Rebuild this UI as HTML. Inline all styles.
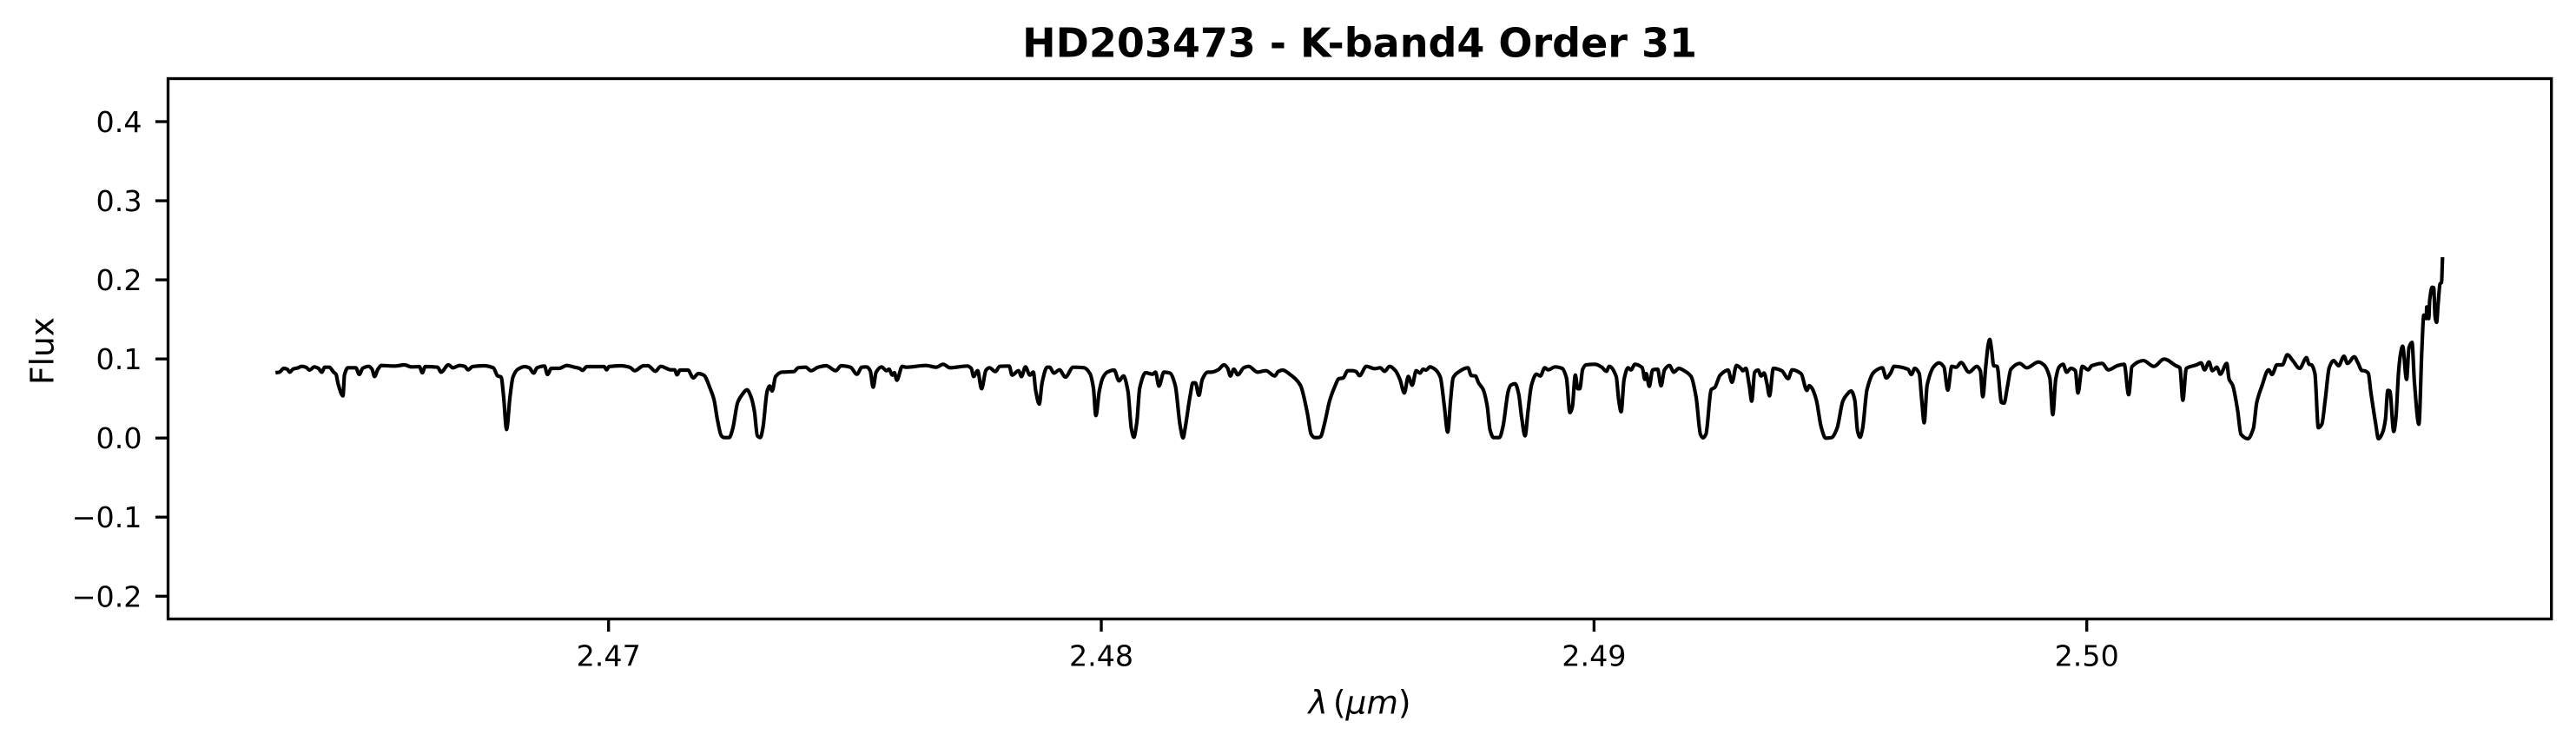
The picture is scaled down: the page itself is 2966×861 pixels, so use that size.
<!DOCTYPE html>
<html lang="en">
<head>
<meta charset="utf-8">
<title>HD203473 - K-band4 Order 31</title>
<style>
html,body{margin:0;padding:0;background:#fff;width:2966px;height:861px;overflow:hidden}
svg{display:block}
text{font-family:"DejaVu Sans","Liberation Sans",sans-serif;fill:#000}
</style>
</head>
<body>
<svg id="chart" xmlns="http://www.w3.org/2000/svg" width="2966" height="861" viewBox="0 0 2966 861">
  <rect x="0" y="0" width="2966" height="861" fill="#fff"/>
  <text x="1565.6" y="65.7" text-anchor="middle" font-size="46" font-weight="700">HD203473 - K-band4 Order 31</text>
  <g id="ticks"></g>
  <path id="line" fill="none" stroke="#000" stroke-width="4.17" stroke-linejoin="round" stroke-linecap="butt"/>
  <rect x="193.5" y="90.5" width="2744.2" height="622" fill="none" stroke="#000" stroke-width="3.33"/>
  <text x="1565.6" y="821.7" text-anchor="middle" font-size="37.5"><tspan font-style="italic">λ</tspan><tspan dx="6">(</tspan><tspan font-style="italic">μm</tspan><tspan>)</tspan></text>
  <text transform="translate(61.5 404) rotate(-90)" text-anchor="middle" font-size="37.5">Flux</text>
</svg>
<script>
const xTicks = [2.47, 2.48, 2.49, 2.50];
const xTickLabels = ["2.47", "2.48", "2.49", "2.50"];
const yTicks = [-0.2, -0.1, 0, 0.1, 0.2, 0.3, 0.4];
const yTickLabels = ["\u22120.2", "\u22120.1", "0.0", "0.1", "0.2", "0.3", "0.4"];
const wavelength = [
2.46324,2.46332,2.46341,2.46348,2.46353,2.46360,2.46370,2.46377,2.46386,2.46393,
2.46403,2.46411,2.46418,2.46424,2.46433,2.46442,2.46447,2.46451,2.46461,2.46464,
2.46471,2.46487,2.46494,2.46501,2.46513,2.46520,2.46525,2.46532,2.46539,2.46566,
2.46586,2.46600,2.46616,2.46622,2.46628,2.46653,2.46660,2.46675,2.46684,2.46698,
2.46708,2.46715,2.46724,2.46747,2.46766,2.46775,2.46782,2.46787,2.46793,2.46800,
2.46806,2.46816,2.46830,2.46839,2.46848,2.46855,2.46870,2.46876,2.46884,2.46900,
2.46915,2.46931,2.46941,2.46947,2.46956,2.46991,2.46996,2.47001,2.47025,2.47043,
2.47053,2.47071,2.47080,2.47095,2.47106,2.47127,2.47134,2.47139,2.47145,2.47161,
2.47172,2.47182,2.47193,2.47207,2.47214,2.47221,2.47229,2.47235,2.47245,2.47252,
2.47262,2.47271,2.47281,2.47289,2.47296,2.47302,2.47308,2.47313,2.47322,2.47327,
2.47332,2.47339,2.47352,
2.47376,2.47385,2.47400,2.47411,2.47425,2.47442,2.47461,2.47472,2.47491,2.47504,
2.47514,2.47524,2.47531,2.47537,2.47543,2.47554,2.47564,2.47569,2.47576,2.47580,
2.47585,2.47596,2.47604,2.47644,2.47665,2.47679,2.47693,2.47728,2.47736,2.47741,
2.47749,2.47757,2.47766,2.47773,2.47785,2.47794,2.47813,2.47819,2.47832,2.47838,
2.47846,2.47855,2.47862,2.47867,2.47874,2.47880,2.47890,2.47895,2.47904,2.47915,
2.47927,2.47943,2.47965,2.47977,2.47984,2.47989,2.47996,2.48003,2.48012,2.48026,
2.48036,2.48045,2.48054,2.48061,2.48066,2.48072,2.48078,2.48090,2.48104,2.48110,
2.48117,2.48127,2.48139,2.48150,2.48160,2.48166,2.48170,2.48180,2.48186,2.48191,
2.48198,2.48205,2.48216,2.48224,2.48237,2.48249,2.48256,2.48262,2.48269,2.48277,
2.48289,2.48299,2.48317,2.48334,2.48352,2.48359,2.48368,2.48383,2.48404,2.48418,
2.48426,2.48433,2.48440,
2.48445,2.48452,2.48464,2.48475,2.48482,2.48491,2.48500,2.48510,2.48517,2.48524,
2.48538,2.48555,2.48566,2.48575,2.48585,2.48597,2.48606,2.48615,2.48623,2.48631,
2.48639,2.48647,2.48653,2.48659,2.48667,2.48677,2.48688,2.48696,2.48703,2.48709,
2.48714,2.48723,2.48744,2.48751,2.48759,2.48766,2.48775,2.48783,2.48789,2.48796,
2.48808,2.48815,2.48826,2.48831,2.48840,2.48847,2.48853,2.48860,2.48866,2.48873,
2.48883,2.48891,2.48900,2.48907,2.48921,2.48935,2.48944,2.48951,2.48956,2.48962,
2.48967,2.48971,2.48977,2.48984,2.49002,2.49015,2.49025,2.49031,2.49045,2.49050,
2.49055,2.49061,2.49069,2.49075,2.49083,2.49098,2.49103,2.49106,2.49112,2.49119,
2.49129,2.49136,2.49143,2.49153,2.49162,2.49172,2.49183,2.49197,2.49207,2.49216,
2.49221,2.49227,2.49238,2.49245,2.49256,2.49272,2.49280,2.49289,2.49298,2.49302,
2.49308,2.49315,2.49320,2.49326,2.49333,2.49339,2.49345,2.49351,2.49356,2.49364,
2.49381,2.49394,2.49402,2.49420,2.49432,2.49437,2.49442,2.49451,2.49461,
2.49470,2.49482,2.49493,2.49505,2.49512,2.49522,2.49529,2.49535,2.49540,2.49545,
2.49554,2.49568,2.49585,2.49593,2.49602,2.49609,2.49637,2.49644,2.49651,2.49660,
2.49665,2.49670,2.49676,2.49690,2.49700,2.49710,2.49718,2.49726,2.49735,2.49745,
2.49761,2.49777,2.49784,2.49789,2.49795,2.49800,2.49803,2.49807,2.49811,2.49818,
2.49827,2.49832,2.49839,2.49846,2.49864,2.49878,2.49902,2.49913,2.49925,2.49931,
2.49937,2.49944,2.49952,2.49959,2.49968,2.49977,2.49982,2.49991,2.50003,2.50010,
2.50031,2.50044,2.50062,2.50076,2.50085,2.50092,2.50115,2.50136,2.50157,2.50181,
2.50189,2.50195,2.50202,2.50223,2.50232,2.50239,2.50248,2.50255,2.50264,2.50271,
2.50284,2.50289,2.50296,2.50306,2.50313,2.50327,2.50338,2.50345,2.50355,2.50369,
2.50376,2.50386,2.50397,2.50407,2.50418,2.50432,2.50446,2.50451,2.50456,2.50463,
2.50470,2.50477,2.50484,2.50492,2.50501,2.50511,2.50522,2.50529,2.50543,2.50550,
2.50559,
2.50562,2.50571,2.50577,2.50586,2.50592,2.50600,2.50606,2.50611,2.50615,2.50623,
2.50627,2.50633,2.50637,2.50641,2.50649,2.50654,2.50660,2.50665,2.50674,2.50680,
2.50684,2.50689,2.50690,2.50694,2.50696,2.50701,2.50704,2.50707,2.50710,2.50713,
2.50717,2.50720,2.50722
];
const flux = [
.0826,.0833,.0881,.0870,.0833,.0873,.0888,.0906,.0895,.0859,
.0899,.0881,.0833,.0895,.0895,.0833,.0804,.0687,.0533,.0796,
.0888,.0888,.0804,.0881,.0906,.0870,.0778,.0870,.0917,.0910,
.0925,.0899,.0903,.0826,.0903,.0895,.0833,.0925,.0888,.0917,
.0906,.0862,.0903,.0914,.0888,.0785,.0771,.0522,.0108,.0522,
.0771,.0870,.0903,.0888,.0822,.0888,.0910,.0804,.0881,.0881,
.0917,.0895,.0881,.0855,.0903,.0903,.0862,.0903,.0914,.0895,
.0851,.0914,.0914,.0844,.0906,.0862,.0862,.0800,.0859,.0859,
.0760,.0815,.0796,.0613,.0485,.0229,.0028,.0006,.0006,.0119,
.0449,.0548,.0610,.0522,.0339,.0028,.0006,.0119,.0595,.0657,
.0595,.0778,.0833,
.0840,.0888,.0895,.0851,.0895,.0914,.0851,.0914,.0895,.0807,
.0895,.0899,.0851,.0643,.0833,.0899,.0851,.0870,.0796,.0826,
.0731,.0906,.0895,.0917,.0895,.0932,.0888,.0910,.0881,.0778,
.0851,.0624,.0859,.0888,.0840,.0906,.0910,.0796,.0851,.0778,
.0899,.0796,.0833,.0595,.0430,.0705,.0895,.0895,.0822,.0862,
.0771,.0895,.0888,.0815,.0632,.0284,.0595,.0760,.0833,.0859,
.0723,.0785,.0595,.0119,.0010,.0193,.0632,.0826,.0807,.0833,
.0657,.0833,.0822,.0668,.0156,.0002,.0119,.0522,.0698,.0698,
.0540,.0742,.0833,.0833,.0862,.0925,.0888,.0785,.0870,.0800,
.0888,.0906,.0833,.0851,.0785,.0840,.0859,.0804,.0668,.0321,
.0046,.0006,.0006,
.0017,.0156,.0485,.0668,.0749,.0760,.0851,.0851,.0840,.0789,
.0906,.0877,.0888,.0844,.0906,.0851,.0742,.0570,.0778,.0668,
.0851,.0822,.0870,.0859,.0899,.0870,.0771,.0412,.0075,.0485,
.0760,.0826,.0888,.0789,.0785,.0694,.0613,.0412,.0101,.0006,
.0006,.0138,.0595,.0668,.0687,.0559,.0266,.0028,.0339,.0668,
.0807,.0785,.0888,.0862,.0899,.0881,.0760,.0321,.0394,.0796,
.0624,.0624,.0870,.0925,.0932,.0899,.0844,.0906,.0778,.0485,
.0332,.0742,.0888,.0862,.0932,.0888,.0742,.0815,.0654,.0862,
.0870,.0661,.0862,.0917,.0833,.0881,.0851,.0778,.0522,.0046,
.0002,.0046,.0613,.0639,.0796,.0859,.0705,.0917,.0881,.0851,
.0881,.0668,.0467,.0833,.0859,.0785,.0822,.0687,.0533,.0881,
.0851,.0752,.0862,.0815,.0602,.0661,.0632,.0485,.0138,
-.0001,.0006,.0119,.0467,.0540,.0595,.0485,.0083,.0010,.0119,
.0613,.0833,.0888,.0760,.0822,.0906,.0870,.0804,.0881,.0815,
.0485,.0193,.0668,.0906,.0950,.0899,.0606,.0906,.0895,.0954,
.0833,.0906,.0851,.0522,.0906,.1181,.1247,.1108,.0914,.0906,
.0449,.0441,.0650,.0870,.0943,.0888,.0961,.0925,.0760,.0295,
.0742,.0899,.0932,.0833,.0881,.0851,.0570,.0906,.0862,.0914,
.0943,.0862,.0914,.0932,.0548,.0906,.0979,.0906,.0998,.0914,
.0888,.0478,.0881,.0925,.0950,.0862,.0961,.0851,.0895,.0807,
.0943,.0742,.0668,.0357,.0046,-.0009,.0119,.0449,.0650,.0862,
.0804,.0925,.0925,.1053,.0979,.0881,.1016,.0932,.0925,.0815,
.0130,.0174,.0485,.0888,.0979,.0914,.1034,.0943,.1027,.0954,
.0851,
.0851,.0822,.0559,.0193,-.0008,.0064,.0229,.0602,.0595,.0083,
.0229,.0851,.1071,.1162,.0742,.1144,.1210,.0705,.0174,.1108,
.1554,.1510,.1657,.1510,.1748,.1905,.1902,.1528,.1463,.1693,
.1949,.1968,.2286
];

const AX_LEFT = 193.5, AX_RIGHT = 2937.7, AX_TOP = 90.5, AX_BOTTOM = 712.5;
const X_MIN = 2.46106, X_MAX = 2.50943, Y_MIN = -0.2288, Y_MAX = 0.4544;
function xScale(v){ return AX_LEFT + (v - X_MIN) / (X_MAX - X_MIN) * (AX_RIGHT - AX_LEFT); }
function yScale(v){ return AX_BOTTOM - (v - Y_MIN) / (Y_MAX - Y_MIN) * (AX_BOTTOM - AX_TOP); }

const SVG_NS = 'http://www.w3.org/2000/svg';
const tickGroup = document.getElementById('ticks');

xTicks.forEach(function(v, i){
  const px = xScale(v);
  const tick = document.createElementNS(SVG_NS, 'line');
  
  
  tick.setAttribute('x1', px); tick.setAttribute('x2', px);
  tick.setAttribute('y1', AX_BOTTOM); tick.setAttribute('y2', AX_BOTTOM + 14.6);
  tick.setAttribute('stroke', '#000'); tick.setAttribute('stroke-width', '3.33');
  tickGroup.appendChild(tick);
  const label = document.createElementNS(SVG_NS, 'text');
  
  
  label.setAttribute('x', px); label.setAttribute('y', 766.7);
  label.setAttribute('text-anchor', 'middle'); label.setAttribute('font-size', '33.3');
  label.textContent = xTickLabels[i];
  tickGroup.appendChild(label);
});

yTicks.forEach(function(v, i){
  const py = yScale(v);
  const tick = document.createElementNS(SVG_NS, 'line');
  
  
  tick.setAttribute('x1', AX_LEFT - 14.6); tick.setAttribute('x2', AX_LEFT);
  tick.setAttribute('y1', py); tick.setAttribute('y2', py);
  tick.setAttribute('stroke', '#000'); tick.setAttribute('stroke-width', '3.33');
  tickGroup.appendChild(tick);
  const label = document.createElementNS(SVG_NS, 'text');
  
  
  label.setAttribute('x', 163.5); label.setAttribute('y', py + 12);
  label.setAttribute('text-anchor', 'end'); label.setAttribute('font-size', '33.3');
  label.textContent = yTickLabels[i];
  tickGroup.appendChild(label);
});

// Monotone cubic through the data points, which rounds the line profile without overshoot.
function monotonePath(xs, ys){
  const n = xs.length, slopes = [], tangents = [];
  for (let i = 0; i < n - 1; i++) slopes.push((ys[i + 1] - ys[i]) / (xs[i + 1] - xs[i]));
  tangents.push(slopes[0]);
  for (let i = 1; i < n - 1; i++) {
    tangents.push(slopes[i - 1] * slopes[i] <= 0 ? 0 : 2 * slopes[i - 1] * slopes[i] / (slopes[i - 1] + slopes[i]));
  }
  tangents.push(slopes[n - 2]);
  let d = 'M' + xs[0].toFixed(2) + ' ' + ys[0].toFixed(2);
  for (let i = 0; i < n - 1; i++) {
    const h = (xs[i + 1] - xs[i]) / 3;
    d += 'C' + (xs[i] + h).toFixed(2) + ' ' + (ys[i] + tangents[i] * h).toFixed(2) + ' ' +
         (xs[i + 1] - h).toFixed(2) + ' ' + (ys[i + 1] - tangents[i + 1] * h).toFixed(2) + ' ' +
         xs[i + 1].toFixed(2) + ' ' + ys[i + 1].toFixed(2);
  }
  return d;
}
const pointCount = Math.min(wavelength.length, flux.length);
document.getElementById('line').setAttribute('d', monotonePath(
  wavelength.slice(0, pointCount).map(xScale),
  flux.slice(0, pointCount).map(yScale)
));
</script>
</body>
</html>
